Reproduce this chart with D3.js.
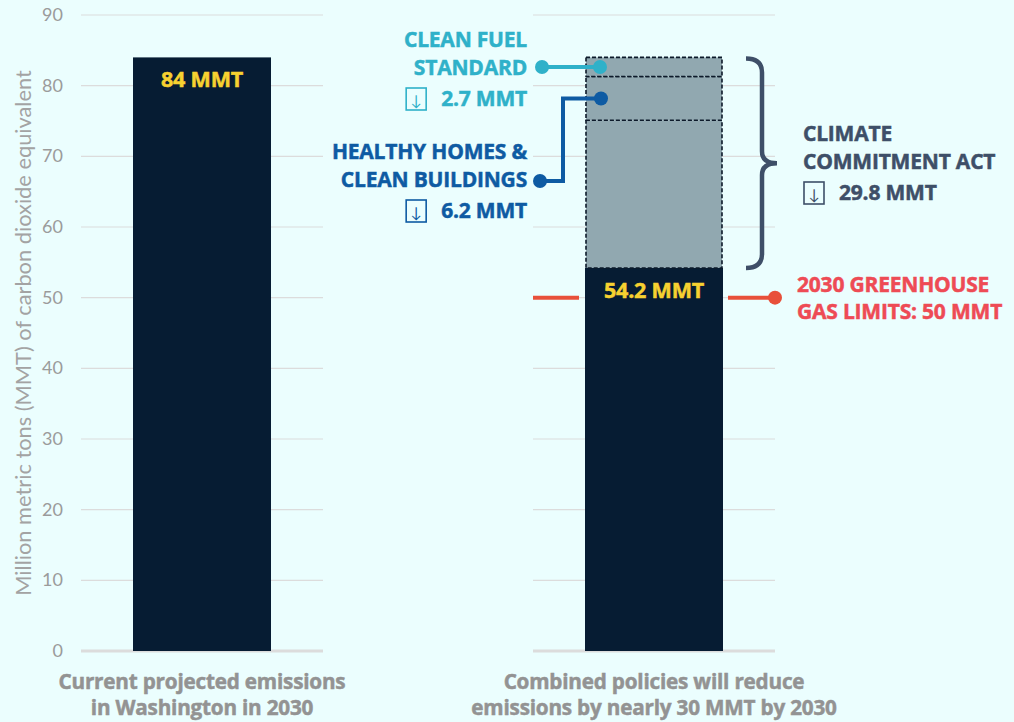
<!DOCTYPE html>
<html>
<head>
<meta charset="utf-8">
<script src="https://cdn.jsdelivr.net/npm/d3@7"></script>
<style>
  body { margin: 0; background: #ebfefe; }
  svg { display: block; }
  text { font-family: Lato, "Open Sans", sans-serif; }
  text.bold { font-family: "Open Sans", Lato, sans-serif; font-weight: 700; letter-spacing: -0.2px; stroke-width: 0.5px; }
</style>
</head>
<body>
<div id="chart"></div>
<script>
const width = 1014;
const height = 722;

// data
const categories = ["current", "policies"];
const categoryLines = [
  ["Current projected emissions", "in Washington in 2030"],
  ["Combined policies will reduce", "emissions by nearly 30 MMT by 2030"]
];
const remaining = [84, 54.2];
const remainingLabels = ["84 MMT", "54.2 MMT"];
const policies = ["Climate Commitment Act", "Healthy Homes & Clean Buildings", "Clean Fuel Standard"];
const policyCuts = [20.9, 6.2, 2.7];
const ccaTotal = 29.8;
const limit = 50;
const yTicks = [0, 10, 20, 30, 40, 50, 60, 70, 80, 90];

const svg = d3.select("#chart")
  .append("svg")
    .attr("width", width)
    .attr("height", height);

let y = d3.scaleLinear().domain([0, 90]).range([651, 15]);
let x = d3.scalePoint().domain(categories).range([202, 654]);
const barW = 138;
const gridHalf = 121;

/* ----------------------- grid + axis ----------------------- */
categories.forEach(function(c) {
  svg.append("g")
    .selectAll("line")
    .data(yTicks)
    .join("line")
      .attr("x1", x(c) - gridHalf)
      .attr("x2", x(c) + gridHalf)
      .attr("y1", d => y(d))
      .attr("y2", d => y(d))
      .attr("stroke", "#dcdcdc")
      .attr("stroke-width", d => d === 0 ? 3 : 1.2);
});

svg.append("g")
  .selectAll("text")
  .data(yTicks)
  .join("text")
    .attr("x", 63)
    .attr("y", d => y(d) + 6)
    .attr("text-anchor", "end")
    .attr("fill", "#9b9b9b")
    .attr("font-size", 18)
    .text(d => d);

svg.append("text")
  .attr("transform", `translate(31, ${y(45)}) rotate(-90)`)
  .attr("text-anchor", "middle")
  .attr("fill", "#a3a3a3")
  .attr("font-size", 21.8)
  .text("Million metric tons (MMT) of carbon dioxide equivalent");

/* ----------------------- bars ----------------------- */
svg.append("g")
  .selectAll("rect")
  .data(categories)
  .join("rect")
    .attr("x", d => x(d) - barW / 2)
    .attr("width", barW)
    .attr("y", (d, i) => y(remaining[i]))
    .attr("height", (d, i) => y(0) - y(remaining[i]))
    .attr("fill", "#061c33");

// stacked reduction segments on the second bar
let stack = [];
let acc = remaining[1];
policyCuts.forEach(function(v, i) {
  stack.push({ name: policies[i], y0: acc, y1: acc + v });
  acc += v;
});

svg.append("g")
  .selectAll("rect")
  .data(stack)
  .join("rect")
    .attr("x", x("policies") - barW / 2 + 1)
    .attr("width", barW - 2)
    .attr("y", d => y(d.y1))
    .attr("height", d => y(d.y0) - y(d.y1))
    .attr("fill", "#91a8b0")
    .attr("stroke", "#0d1a2a")
    .attr("stroke-width", 1.6)
    .attr("stroke-dasharray", "4,2");

// value labels in bars
svg.append("g")
  .selectAll("text")
  .data(categories)
  .join("text")
    .attr("class", "bold")
    .attr("x", d => x(d))
    .attr("y", (d, i) => y(remaining[i]) + 30)
    .attr("text-anchor", "middle")
    .attr("fill", "#f7d130")
    .attr("stroke", "#f7d130")
    .attr("font-size", 21.5)
    .text((d, i) => remainingLabels[i]);

// category labels
categories.forEach(function(c, i) {
  svg.append("text")
    .attr("class", "bold")
    .attr("x", x(c))
    .attr("y", 689)
    .attr("text-anchor", "middle")
    .attr("fill", "#939393")
    .attr("stroke", "#939393")
    .attr("font-size", 20.7)
    .selectAll("tspan")
    .data(categoryLines[i])
    .join("tspan")
      .attr("x", x(c))
      .attr("dy", (d, j) => j === 0 ? 0 : 26)
      .text(d => d);
});

/* ----------------------- limit line ----------------------- */
const red = "#e8503a";
const bx = x("policies");
svg.append("line")
  .attr("x1", bx - gridHalf).attr("x2", bx - barW / 2 - 6)
  .attr("y1", y(limit)).attr("y2", y(limit))
  .attr("stroke", red).attr("stroke-width", 4);
svg.append("line")
  .attr("x1", bx + barW / 2 + 5).attr("x2", bx + gridHalf)
  .attr("y1", y(limit)).attr("y2", y(limit))
  .attr("stroke", red).attr("stroke-width", 4);
svg.append("circle")
  .attr("cx", bx + gridHalf).attr("cy", y(limit)).attr("r", 7)
  .attr("fill", red);

svg.append("text")
  .attr("class", "bold")
  .attr("x", 797)
  .attr("y", y(limit) - 6)
  .attr("fill", "#ee4b55")
  .attr("stroke", "#ee4b55")
  .attr("font-size", 21)
  .selectAll("tspan")
  .data(["2030 GREENHOUSE", "GAS LIMITS: " + limit + " MMT"])
  .join("tspan")
    .attr("x", 797)
    .attr("dy", (d, j) => j === 0 ? 0 : 27)
    .text(d => d);

/* ----------------------- brace + CCA label ----------------------- */
const slate = "#3e4f68";
const bTop = y(remaining[0]) + 1;
const bBot = y(remaining[1]);
const bMid = (bTop + bBot) / 2;
const bxL = 746, bxV = 762, bxT = 777;
svg.append("path")
  .attr("d", `M${bxL},${bTop} Q${bxV},${bTop} ${bxV},${bTop + 14} L${bxV},${bMid - 12} Q${bxV},${bMid} ${bxT},${bMid}
              Q${bxV},${bMid} ${bxV},${bMid + 12} L${bxV},${bBot - 14} Q${bxV},${bBot} ${bxL},${bBot}`)
  .attr("fill", "none")
  .attr("stroke", slate)
  .attr("stroke-width", 4.5);

function arrowBox(g, xLeft, baseline, color) {
  g.append("rect")
    .attr("x", xLeft + 1).attr("y", baseline - 18)
    .attr("width", 20).attr("height", 22)
    .attr("fill", "none").attr("stroke", color).attr("stroke-width", 1.6);
  g.append("text")
    .attr("x", xLeft + 11).attr("y", baseline)
    .attr("text-anchor", "middle")
    .attr("fill", color)
    .attr("font-size", 15)
    .text("↓");
}

function policyLabel(lines, amount, xPos, y0, color, anchor) {
  const g = svg.append("g");
  g.append("text")
    .attr("class", "bold")
    .attr("x", xPos).attr("y", y0)
    .attr("text-anchor", anchor)
    .attr("fill", color)
    .attr("stroke", color)
    .attr("font-size", 21)
    .selectAll("tspan")
    .data(lines)
    .join("tspan")
      .attr("x", xPos)
      .attr("dy", (d, j) => j === 0 ? 0 : 28)
      .text(d => d);
  const lastY = y0 + 28 * lines.length + 3;
  const amt = g.append("text")
    .attr("class", "bold")
    .attr("x", anchor === "end" ? xPos : xPos + 36)
    .attr("y", lastY)
    .attr("text-anchor", anchor)
    .attr("fill", color)
    .attr("stroke", color)
    .attr("font-size", 21)
    .text(d3.format(".1f")(amount) + " MMT");
  const w = amt.node().getComputedTextLength();
  const boxX = anchor === "end" ? xPos - w - 36 : xPos;
  arrowBox(g, boxX, lastY, color);
}

policyLabel(["CLIMATE", "COMMITMENT ACT"], ccaTotal, 803, 141, slate, "start");

/* ----------------------- callouts ----------------------- */
const teal = "#2fb1c9";
const blue = "#0e5ba3";
const cf = stack[2], hh = stack[1];

policyLabel(["CLEAN FUEL", "STANDARD"], policyCuts[2], 527, 47, teal, "end");
const cfY = y((cf.y0 + cf.y1) / 2);
svg.append("line")
  .attr("x1", 542).attr("x2", 600).attr("y1", cfY).attr("y2", cfY)
  .attr("stroke", teal).attr("stroke-width", 4);
svg.selectAll(".cfdot")
  .data([542, 600])
  .join("circle")
    .attr("cx", d => d).attr("cy", cfY).attr("r", 7).attr("fill", teal);

policyLabel(["HEALTHY HOMES &", "CLEAN BUILDINGS"], policyCuts[1], 527, 159, blue, "end");
const hhY = y(hh.y1) + 22;
svg.append("path")
  .attr("d", `M540,181 L563,181 L563,${hhY} L601,${hhY}`)
  .attr("fill", "none")
  .attr("stroke", blue).attr("stroke-width", 4);
svg.selectAll(".hhdot")
  .data([[540, 181], [601, hhY]])
  .join("circle")
    .attr("cx", d => d[0]).attr("cy", d => d[1]).attr("r", 7).attr("fill", blue);
</script>
</body>
</html>
